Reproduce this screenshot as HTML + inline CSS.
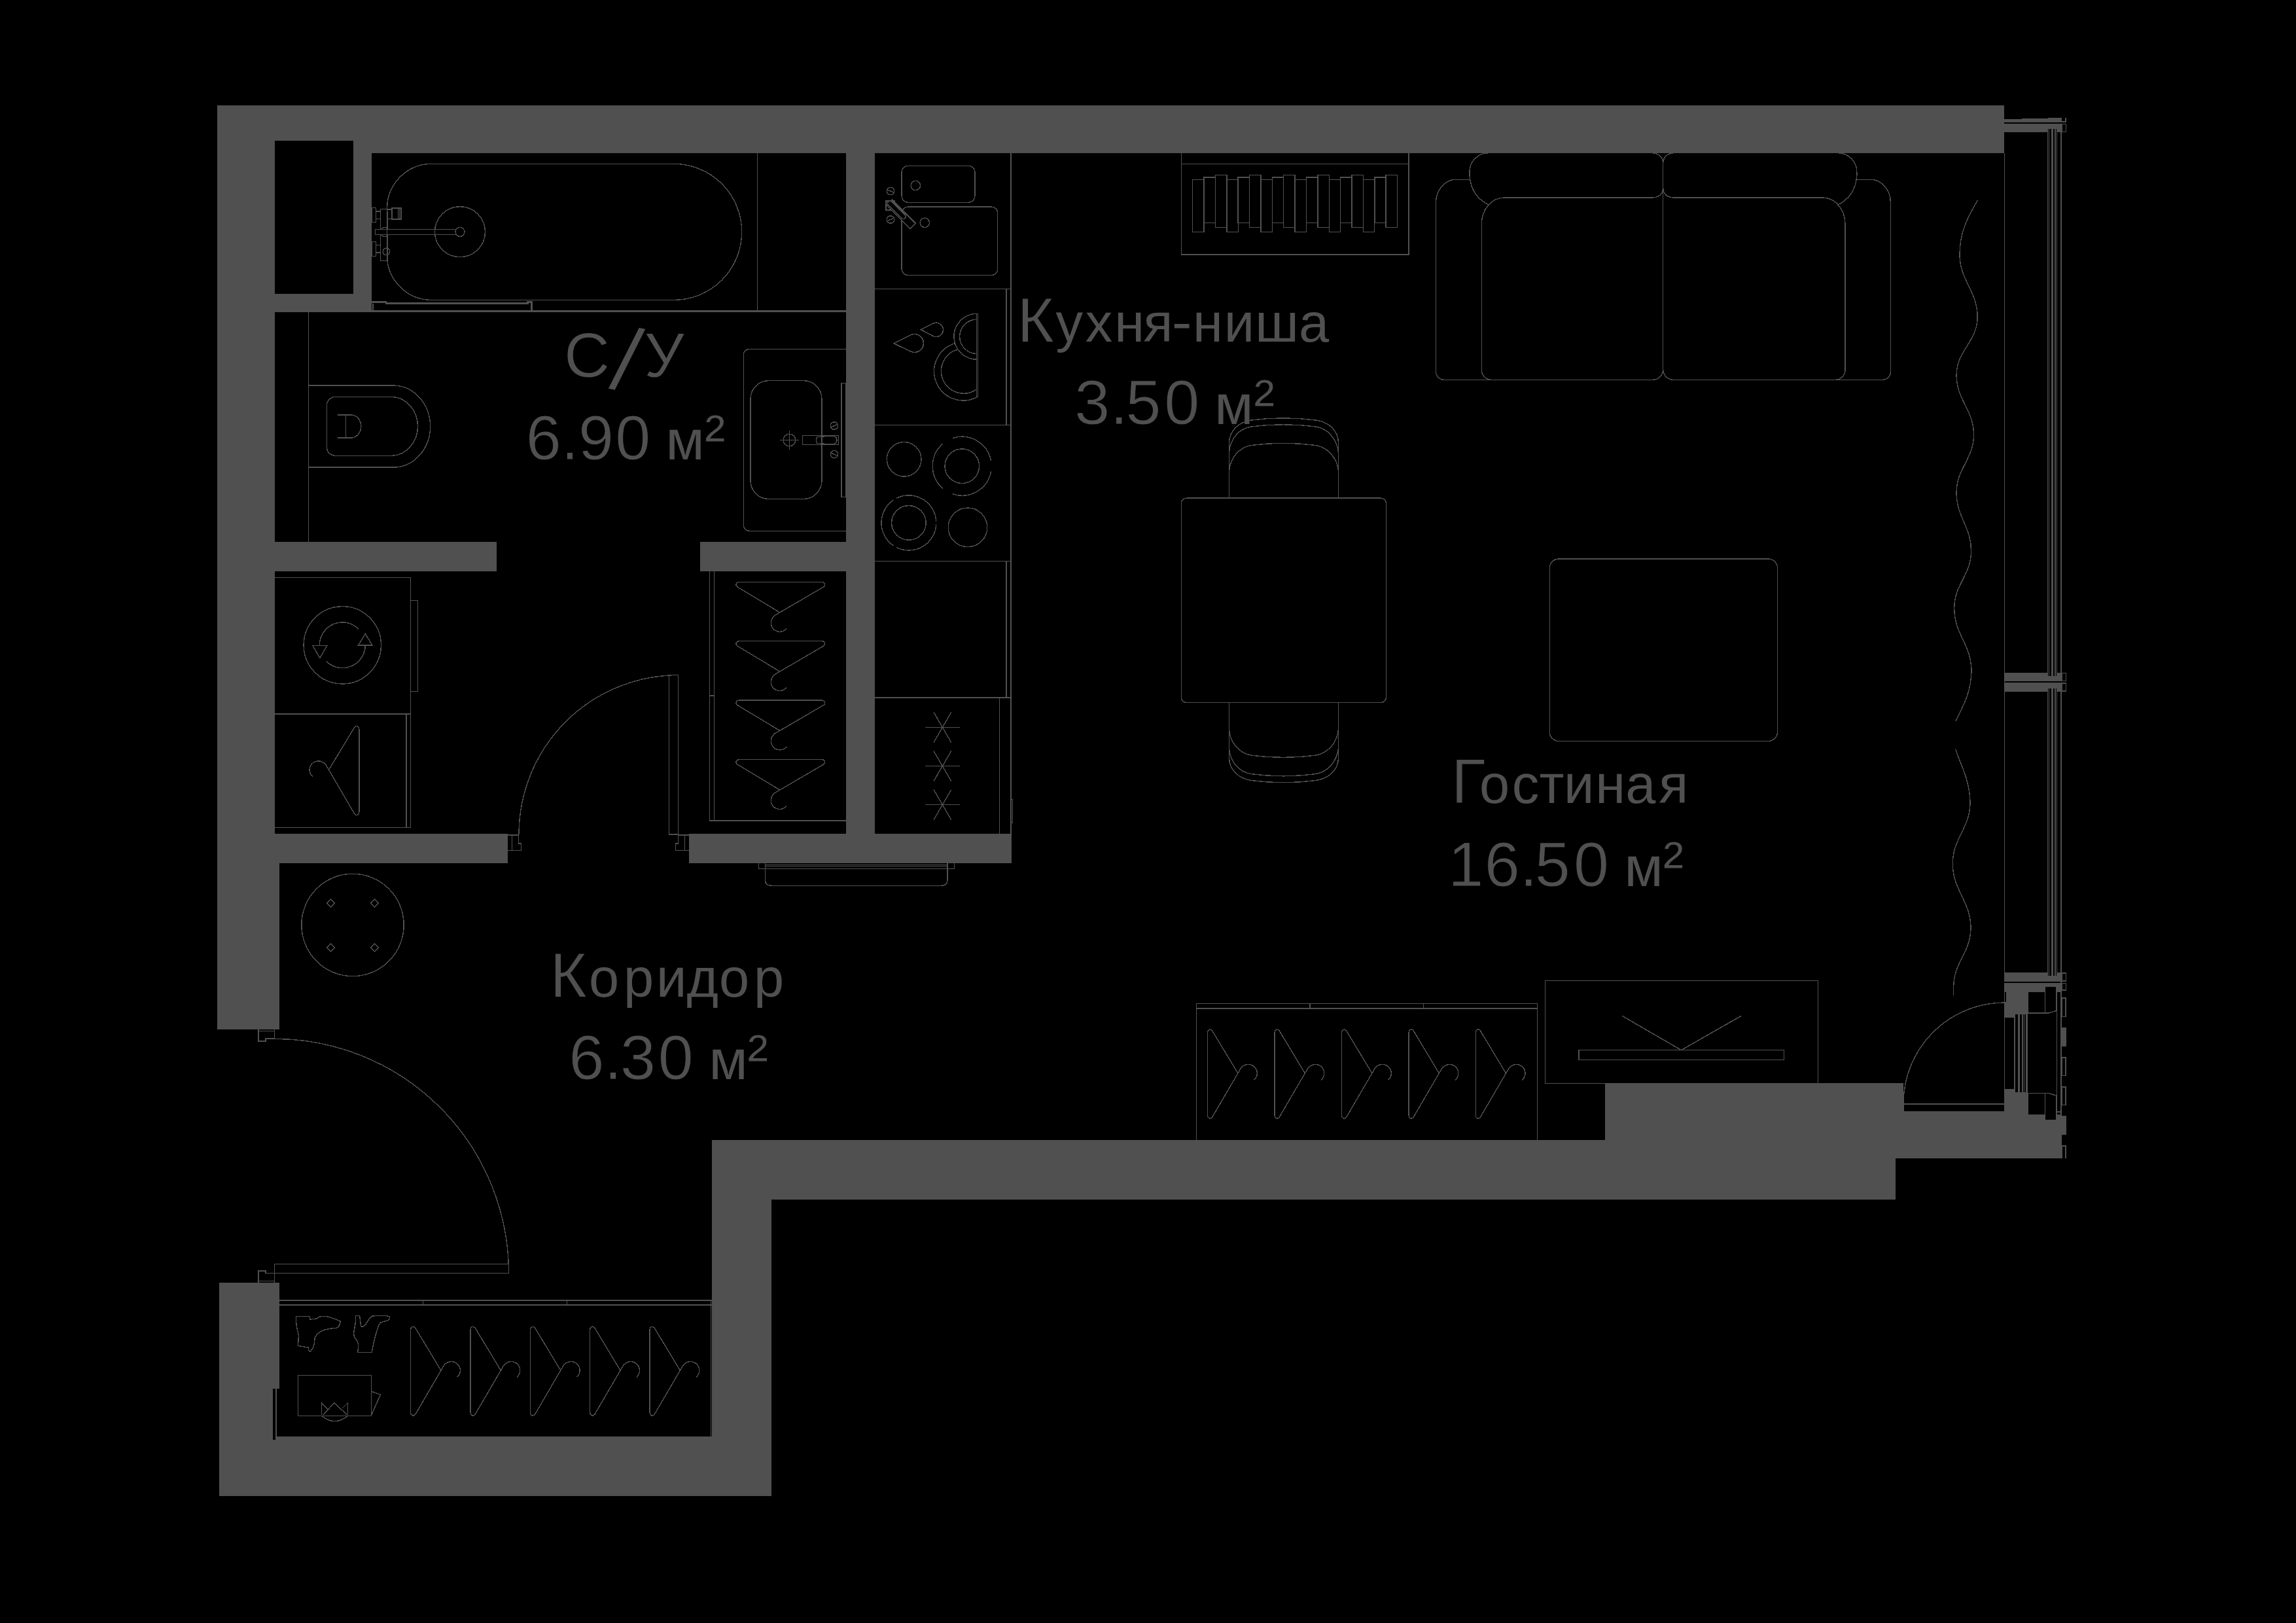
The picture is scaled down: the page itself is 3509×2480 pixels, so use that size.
<!DOCTYPE html>
<html lang="ru"><head><meta charset="utf-8"><title>Plan</title>
<style>
html,body{margin:0;padding:0;background:#000;}
body{width:3509px;height:2480px;overflow:hidden;font-family:"Liberation Sans",sans-serif;}
svg{display:block}
</style></head>
<body>
<svg width="3509" height="2480" viewBox="0 0 3509 2480" fill="none" stroke="#505050" stroke-width="1.4" shape-rendering="crispEdges">
<rect x="0" y="0" width="3509" height="2480" fill="#000" stroke="none"/>
<g id="walls" stroke="none">
<rect x="332.0" y="161.0" width="2731.0" height="72.7" fill="#505050" />
<rect x="332.0" y="161.0" width="236.0" height="315.5" fill="#505050" />
<rect x="420.0" y="215.0" width="119.9" height="233.6" fill="#000" />
<rect x="332.0" y="161.0" width="88.0" height="1113.3" fill="#505050" />
<rect x="332.0" y="1274.0" width="94.6" height="298.8" fill="#505050" />
<rect x="1293.0" y="233.0" width="44.0" height="1085.5" fill="#505050" />
<rect x="420.0" y="828.0" width="339.0" height="44.7" fill="#505050" />
<rect x="1070.0" y="828.0" width="223.0" height="44.7" fill="#505050" />
<rect x="420.0" y="1274.2" width="355.7" height="44.3" fill="#505050" />
<rect x="1053.0" y="1274.2" width="492.8" height="44.3" fill="#505050" />
<rect x="335.3" y="1960.0" width="91.3" height="325.8" fill="#505050" />
<rect x="335.3" y="2195.0" width="843.4" height="90.8" fill="#505050" />
<rect x="1087.7" y="1742.0" width="91.0" height="543.8" fill="#505050" />
<rect x="1087.7" y="1742.0" width="1809.3" height="90.7" fill="#505050" />
<rect x="2453.0" y="1655.2" width="456.0" height="115.2" fill="#505050" />
<rect x="2897.0" y="1698.0" width="254.0" height="72.4" fill="#505050" />
</g>
<g id="bath">
<line x1="1157.5" y1="233.7" x2="1157.5" y2="475.0"/>
<line x1="568.0" y1="475.2" x2="1293.0" y2="475.2" stroke-width="2.6"/>
<path d="M659.6,250.4 H1029.7 A104,104 0 0 1 1029.7,458.4 H659.6 A68,68 0 0 1 591.6,390.4 V318.4 A68,68 0 0 1 659.6,250.4 Z" />
<circle cx="703.0" cy="354.2" r="38.5"/>
<circle cx="703.0" cy="354.4" r="7.0"/>
<rect x="573.3" y="350.6" width="123.1" height="7.8" rx="0"/>
<path d="M581.3,350.6 V319.3 H599 M592.4,350.6 V323 M581.3,358.4 V398.5 H592.4 V358.4" />
<rect x="568.0" y="317.3" width="6.6" height="22.0" rx="0"/>
<rect x="574.6" y="323.0" width="6.7" height="11.5" rx="0"/>
<rect x="568.0" y="369.4" width="6.6" height="22.0" rx="0"/>
<rect x="574.6" y="374.7" width="6.7" height="11.3" rx="0"/>
<rect x="599.0" y="318.0" width="13.7" height="17.3" rx="0" stroke-width="1.6"/>
<line x1="608.2" y1="318.0" x2="608.2" y2="335.3"/>
<line x1="610.7" y1="318.0" x2="610.7" y2="335.3"/>
<line x1="592.4" y1="320.0" x2="599.0" y2="320.0"/>
<line x1="592.4" y1="334.5" x2="599.0" y2="334.5"/>
<circle cx="590.4" cy="384.4" r="5.3"/>
<path d="M583,350.6 A5,3 0 0 1 593,350.6 M583,358.4 A5,3 0 0 0 593,358.4" />
<path d="M568,461.5 H590 V463.5 H806.5 V461.5 H812.5 V475" stroke-width="2.4" />
<line x1="569.5" y1="464.0" x2="569.5" y2="474.0" stroke-width="2"/>
<line x1="471.6" y1="476.0" x2="471.6" y2="828.0"/>
<path d="M471.6,589.1 H601.3 A56.3,62.5 0 0 1 601.3,714.1 H471.6" />
<path d="M512.4,606.4 H599.7 A40.7,45 0 0 1 599.7,696.3 H512.4 A13,13 0 0 1 499.4,683.3 V619.4 A13,13 0 0 1 512.4,606.4 Z" />
<path d="M516.2,634 H536.5 A15.3,17.5 0 0 1 536.5,669 H516.2 M528.5,634 V669" stroke-width="1.5" />
<path d="M1293,533.3 H1145.5 A9.3,9.3 0 0 0 1136.2,542.6 V802.1 A9.3,9.3 0 0 0 1145.5,811.4 H1293" />
<rect x="1147.0" y="581.6" width="109.0" height="180.9" rx="28"/>
<circle cx="1206.4" cy="672.5" r="9.3"/>
<line x1="1192.2" y1="672.5" x2="1220.6" y2="672.5"/>
<line x1="1206.4" y1="658.3" x2="1206.4" y2="686.7"/>
<rect x="1226.4" y="665.8" width="55.2" height="13.4" rx="0"/>
<path d="M1249,667.5 L1272,666 Q1279,666.5 1279,672.5 Q1279,678.5 1272,679 L1249,677.5 Q1246,672.5 1249,667.5 Z" />
<circle cx="1274.9" cy="650.6" r="5.7"/>
<line x1="1270.0" y1="652.6" x2="1279.8" y2="648.6"/>
<circle cx="1274.9" cy="694.2" r="5.7"/>
<line x1="1270.0" y1="692.2" x2="1279.8" y2="696.2"/>
<rect x="1286.1" y="585.3" width="6.9" height="174.2" rx="0"/>
</g>
<g id="kitchen">
<line x1="1544.9" y1="233.7" x2="1544.9" y2="1274.3"/>
<line x1="1337.0" y1="441.4" x2="1544.9" y2="441.4"/>
<line x1="1337.0" y1="649.6" x2="1544.9" y2="649.6"/>
<line x1="1337.0" y1="857.5" x2="1544.9" y2="857.5"/>
<line x1="1337.0" y1="1066.0" x2="1544.9" y2="1066.0"/>
<line x1="1538.0" y1="441.4" x2="1538.0" y2="649.6"/>
<line x1="1538.0" y1="857.5" x2="1538.0" y2="1066.0"/>
<line x1="1527.6" y1="1066.0" x2="1527.6" y2="1274.3"/>
<rect x="1544.9" y="1221.6" width="2.8" height="35.9" rx="0"/>
<rect x="1378.1" y="253.4" width="111.8" height="55.9" rx="9.5"/>
<circle cx="1399.3" cy="283.4" r="7.2"/>
<rect x="1378.1" y="316.1" width="146.7" height="104.4" rx="9.5"/>
<circle cx="1413.3" cy="340.3" r="7.2"/>
<circle cx="1361.0" cy="292.0" r="5.7"/>
<line x1="1356.5" y1="290.2" x2="1365.5" y2="293.8"/>
<circle cx="1361.0" cy="335.5" r="5.7"/>
<line x1="1356.5" y1="337.3" x2="1365.5" y2="333.7"/>
<rect x="1354.2" y="307.4" width="12.4" height="13.2" rx="0" stroke-width="2.2"/>
<g transform="translate(1361.2,311.6) rotate(45)">
<rect x="-3" y="-5.9" width="51" height="11.8" fill="#000" stroke-width="1.6"/>
<rect x="-5" y="-3.8" width="36" height="7.6" rx="3.8" fill="#000" stroke-width="1.6"/>
</g>
<rect x="1492.0" y="479.4" width="2.0" height="127.5" rx="0" stroke-width="1"/>
<path d="M1492.9,479.3 A35,35 0 0 0 1492.9,549.3" />
<path d="M1492.9,488.1 A26.2,26.2 0 0 0 1492.9,540.5" />
<clipPath id="cpl"><path d="M1400,470 H1492.9 V620 H1400 Z"/></clipPath>
<path d="M1460.5,524.5 A44.5,44.5 0 1 0 1492.9,606.8" />
<path d="M1463.5,534 A34.2,34.2 0 1 0 1492.9,594.5" />
<path d="M1366.3,524.8 L1391.5,511.9 A13.9,13.9 0 1 1 1391.5,536.9 Z" stroke-width="1.5" />
<path d="M1407.4,503.6 L1426,494.3 A10.7,10.7 0 1 1 1426,513.5 Z" stroke-width="1.5" />
<circle cx="1381.7" cy="701.8" r="26.3"/>
<circle cx="1470.3" cy="712.2" r="26.3"/>
<path d="M1455.6,669.7 A45,45 0 0 1 1514.5,704.0" />
<path d="M1514.7,719.8 A45,45 0 0 1 1455.6,754.7" />
<path d="M1440.8,746.2 A45,45 0 0 1 1440.6,678.4" />
<circle cx="1388.9" cy="798.9" r="26.3"/>
<path d="M1370.1,761.3 A42,42 0 0 1 1430.8,796.7" />
<path d="M1430.8,801.4 A42,42 0 0 1 1370.1,836.5" />
<path d="M1365.6,833.8 A42,42 0 0 1 1365.6,764.0" />
<circle cx="1479.0" cy="805.8" r="29.8"/>
<line x1="1414.0" y1="1111.4" x2="1466.8" y2="1111.4"/>
<line x1="1427.0" y1="1088.4" x2="1453.8" y2="1134.4"/>
<line x1="1453.8" y1="1088.4" x2="1427.0" y2="1134.4"/>
<line x1="1414.0" y1="1170.6" x2="1466.8" y2="1170.6"/>
<line x1="1427.0" y1="1147.6" x2="1453.8" y2="1193.6"/>
<line x1="1453.8" y1="1147.6" x2="1427.0" y2="1193.6"/>
<line x1="1414.0" y1="1229.7" x2="1466.8" y2="1229.7"/>
<line x1="1427.0" y1="1206.7" x2="1453.8" y2="1252.7"/>
<line x1="1453.8" y1="1206.7" x2="1427.0" y2="1252.7"/>
</g>
<g id="living">
<path d="M1805.7,233.7 V388.9 H2153 V233.7" />
<line x1="1805.7" y1="388.6" x2="2153.0" y2="388.6" stroke-width="2"/>
<line x1="1805.7" y1="250.3" x2="2153.0" y2="250.3"/>
<rect x="1822.6" y="274.3" width="17.4" height="80.1" rx="0"/>
<rect x="1840.0" y="271.0" width="17.4" height="69.4" rx="0"/>
<rect x="1857.4" y="267.4" width="17.4" height="80.1" rx="0"/>
<rect x="1874.8" y="274.3" width="17.4" height="80.1" rx="0"/>
<rect x="1892.2" y="271.0" width="17.4" height="69.4" rx="0"/>
<rect x="1909.5" y="267.4" width="17.4" height="80.1" rx="0"/>
<rect x="1926.9" y="274.3" width="17.4" height="80.1" rx="0"/>
<rect x="1944.3" y="271.0" width="17.4" height="69.4" rx="0"/>
<rect x="1961.7" y="267.4" width="17.4" height="80.1" rx="0"/>
<rect x="1979.1" y="274.3" width="17.4" height="80.1" rx="0"/>
<rect x="1996.5" y="271.0" width="17.4" height="69.4" rx="0"/>
<rect x="2013.9" y="267.4" width="17.4" height="80.1" rx="0"/>
<rect x="2031.3" y="274.3" width="17.4" height="80.1" rx="0"/>
<rect x="2048.7" y="271.0" width="17.4" height="69.4" rx="0"/>
<rect x="2066.0" y="267.4" width="17.4" height="80.1" rx="0"/>
<rect x="2083.4" y="274.3" width="17.4" height="80.1" rx="0"/>
<rect x="2100.8" y="271.0" width="17.4" height="69.4" rx="0"/>
<rect x="2118.2" y="267.4" width="17.4" height="80.1" rx="0"/>
<path d="M2246,274.2 H2225.4 A31,36 0 0 0 2194.4,310.2 V568 A12.5,12.5 0 0 0 2206.9,580.3 H2282" />
<path d="M2837.8,274.2 H2858.5 A31,36 0 0 1 2889.5,310.2 V568 A12.5,12.5 0 0 1 2877,580.3 H2802" />
<path d="M2275,233.7 A29,29 0 0 0 2246,262.7 V268 Q2248,300 2276,313.5" />
<path d="M2276,233.7 H2526 Q2541.7,236 2541.7,250 V286 Q2541.7,302 2524,302 H2299.3" />
<path d="M2808.8,233.7 A29,29 0 0 1 2837.8,262.7 V268 Q2836,300 2808,313.5" />
<path d="M2557,233.7 Q2541.7,236 2541.7,250 V286 Q2541.7,302 2559,302 H2785" />
<path d="M2299.3,302 A35,40 0 0 0 2264.3,342 V565 A15,15 0 0 0 2279.3,580.3 H2526 A15.7,15.7 0 0 0 2541.7,564.6" />
<path d="M2785,302 A35,40 0 0 1 2820,342 V565 A15,15 0 0 1 2805,580.3 H2557.4 A15.7,15.7 0 0 1 2541.7,564.6" />
<line x1="2541.7" y1="286.0" x2="2541.7" y2="565.0"/>
<rect x="1805.2" y="761.0" width="313.3" height="312.6" rx="8.4"/>
<path d="M1878.4,761 V677.9 C1878.4,655.1 1896.7,644.4 1912,642.1 Q1961.5,635.6 2011,642.1 C2027.8,644.4 2045.6,655.1 2045.6,677.9 V761" />
<path d="M1878.4,691.6 C1879.9,670.3 1893.7,655 1912,652 Q1961.5,645.5 2011,652 C2029.3,655 2043,670.3 2045.6,691.6" />
<path d="M1878.4,720.6 C1879.9,699.3 1893.7,684 1912,680.5 Q1961.5,674 2011,680.5 C2029.3,684 2043.8,699.3 2045.6,720.6" />
<path d="M1878.4,1073.6 V1156.7 C1878.4,1179.5 1896.7,1190.2 1912,1192.5 Q1961.5,1199.0 2011,1192.5 C2027.8,1190.2 2045.6,1179.5 2045.6,1156.7 V1073.6" />
<path d="M1878.4,1143.0 C1879.9,1164.3 1893.7,1179.6 1912,1182.6 Q1961.5,1189.1 2011,1182.6 C2029.3,1179.6 2043,1164.3 2045.6,1143.0" />
<path d="M1878.4,1114.0 C1879.9,1135.3 1893.7,1150.6 1912,1154.1 Q1961.5,1160.6 2011,1154.1 C2029.3,1150.6 2043.8,1135.3 2045.6,1114.0" />
<rect x="2368.2" y="854.0" width="348.3" height="278.5" rx="14"/>
<path d="M3022.2,306.3 C3010,328 2995,351.6 2995,388.7 C2995,428.9 3022.2,444.3 3022.2,484.5 C3022.2,521.8 2990.1,535.9 2990.1,573.2 C2990.1,611.4 3016.5,626.0 3016.5,664.2 C3016.5,701.4 2990.1,715.6 2990.1,752.8 C2990.1,790.3 3012.6,804.5 3012.6,842 C3012.6,878.7 2986.7,892.7 2986.7,929.4 C2986.7,969.6 3013,984.8 3013,1025 C3013,1059.6 2997,1084 2989,1101.8" />
<path d="M2989,1145 C2992,1160 3011,1189.8 3011,1226.4 C3011,1265.6 2984.3,1280.6 2984.3,1319.8 C2984.3,1361.0 3012,1376.8 3012,1418 C3012,1455.8 2985.7,1470.2 2985.7,1508 C2985.7,1513.8 2985.7,1516 2985.7,1521" />
</g>
<g id="window">
<line x1="3063.6" y1="233.7" x2="3063.6" y2="1486.0"/>
<line x1="3129.5" y1="197.0" x2="3129.5" y2="1033.0" stroke-width="1.1"/>
<line x1="3129.5" y1="1052.0" x2="3129.5" y2="1491.0" stroke-width="1.1"/>
<line x1="3131.6" y1="197.0" x2="3131.6" y2="1033.0" stroke-width="1.1"/>
<line x1="3131.6" y1="1052.0" x2="3131.6" y2="1491.0" stroke-width="1.1"/>
<line x1="3136.4" y1="197.0" x2="3136.4" y2="1033.0" stroke-width="3"/>
<line x1="3136.4" y1="1052.0" x2="3136.4" y2="1491.0" stroke-width="3"/>
<line x1="3141.0" y1="197.0" x2="3141.0" y2="1033.0" stroke-width="1.9"/>
<line x1="3141.0" y1="1052.0" x2="3141.0" y2="1491.0" stroke-width="1.9"/>
<line x1="3143.5" y1="197.0" x2="3143.5" y2="1033.0" stroke-width="1.1"/>
<line x1="3143.5" y1="1052.0" x2="3143.5" y2="1491.0" stroke-width="1.1"/>
<line x1="3150.0" y1="197.0" x2="3150.0" y2="1033.0" stroke-width="2.2"/>
<line x1="3150.0" y1="1052.0" x2="3150.0" y2="1491.0" stroke-width="2.2"/>
<g stroke="none" fill="#505050">
<path d="M3063,181.8 H3090 V181 H3130 V180 H3151 V185 H3156 V180 H3158 V187 H3063 Z"/>
<rect x="3063.0" y="189.2" width="88.0" height="7.6" fill="#505050" />
<rect x="3063.0" y="196.8" width="66.0" height="5.2" fill="#505050" />
<rect x="3144.0" y="196.8" width="7.0" height="5.2" fill="#505050" />
<path fill-rule="evenodd" d="M3151,189.2 H3158 V202 H3151 Z M3152.2,190.4 V200.8 H3156.8 V190.4 Z"/>
<rect x="3063.0" y="1033.0" width="88.0" height="7.9" fill="#505050" />
<rect x="3063.0" y="1028.0" width="66.0" height="5.0" fill="#505050" />
<rect x="3144.0" y="1028.0" width="7.0" height="5.0" fill="#505050" />
<rect x="3063.0" y="1043.0" width="88.0" height="8.8" fill="#505050" />
<rect x="3063.0" y="1051.8" width="66.0" height="5.2" fill="#505050" />
<rect x="3144.0" y="1051.8" width="7.0" height="5.2" fill="#505050" />
<path fill-rule="evenodd" d="M3151,1028 H3158 V1040.9 H3151 Z M3152.2,1029.2 V1039.7 H3156.8 V1029.2 Z"/>
<path fill-rule="evenodd" d="M3151,1043 H3158 V1057 H3151 Z M3152.2,1044.8 V1055 H3156.8 V1044.8 Z"/>
<rect x="3063.0" y="1491.0" width="88.0" height="8.8" fill="#505050" />
<rect x="3063.0" y="1485.9" width="66.0" height="5.1" fill="#505050" />
<rect x="3144.0" y="1485.9" width="7.0" height="5.1" fill="#505050" />
<path fill-rule="evenodd" d="M3151,1485.9 H3158 V1499.8 H3151 Z M3152.2,1487.6 V1498 H3156.8 V1487.6 Z"/>
<path fill-rule="evenodd" d="M3151,1502.1 H3158 V1514 H3151 Z M3152.2,1503.3 V1512 H3156.8 V1503.3 Z"/>
<rect x="3063.0" y="1502.1" width="87.0" height="6.1" fill="#505050" />
<rect x="3063.0" y="1502.1" width="36.0" height="52.7" fill="#505050" />
<rect x="3142.1" y="1508.2" width="7.9" height="7.7" fill="#505050" />
<rect x="3099.0" y="1508.0" width="26.6" height="7.9" fill="#505050" />
<rect x="3064.4" y="1516.0" width="1.6" height="14.8" fill="#000" />
<rect x="3063.0" y="1664.0" width="36.0" height="36.0" fill="#505050" />
<rect x="3099.0" y="1702.7" width="27.0" height="9.3" fill="#505050" />
<rect x="3125.0" y="1710.9" width="27.0" height="1.1" fill="#505050" />
<rect x="3142.1" y="1703.0" width="8.9" height="9.0" fill="#505050" />
<rect x="2897.0" y="1698.0" width="166.5" height="72.4" fill="#505050" />
<rect x="3063.0" y="1700.0" width="88.0" height="70.4" fill="#505050" />
<rect x="3099.0" y="1671.3" width="26.3" height="31.4" fill="#000" />
<rect x="3125.9" y="1671.3" width="16.2" height="39.6" fill="#000" />
<rect x="3143.0" y="1700.0" width="6.0" height="3.0" fill="#000" />
<path fill-rule="evenodd" d="M3150.5,1524 H3158 V1554 H3150.5 Z M3151.7,1525.5 V1552.5 H3156.3 V1525.5 Z"/>
<rect x="3150.5" y="1570.0" width="7.5" height="29.0" fill="#505050" />
<path fill-rule="evenodd" d="M3150.5,1615 H3158 V1644 H3150.5 Z M3151.7,1616.5 V1642.5 H3156.3 V1616.5 Z"/>
<path fill-rule="evenodd" d="M3150.5,1660 H3158 V1689 H3150.5 Z M3151.7,1661.5 V1687.5 H3156.3 V1661.5 Z"/>
<rect x="3150.5" y="1705.0" width="7.5" height="29.0" fill="#505050" />
<rect x="3150.5" y="1734.0" width="0.5" height="16.0" fill="#000" />
<path fill-rule="evenodd" d="M3150.5,1750 H3158 V1770 H3150.5 Z M3151.7,1751.5 V1770 H3156.3 V1751.5 Z"/>
</g>
<path d="M3099,1516 V1548 H3131 L3142.5,1544.5 V1508.2" />
<line x1="3125.6" y1="1508.2" x2="3125.6" y2="1548.0"/>
<path d="M3099,1702.7 V1670.6 H3131 L3142.5,1674 V1711" />
<line x1="3125.6" y1="1670.6" x2="3125.6" y2="1710.9"/>
<line x1="3143.6" y1="1516.0" x2="3143.6" y2="1703.0"/>
<line x1="3150.0" y1="1500.0" x2="3150.0" y2="1712.0" stroke-width="2"/>
<line x1="3078.9" y1="1550.0" x2="3078.9" y2="1668.5" stroke-width="1.2"/>
<line x1="3085.5" y1="1550.0" x2="3085.5" y2="1668.5" stroke-width="3"/>
<line x1="3090.9" y1="1550.0" x2="3090.9" y2="1668.5" stroke-width="1.8"/>
<line x1="3093.4" y1="1550.0" x2="3093.4" y2="1668.5" stroke-width="1"/>
<line x1="3097.5" y1="1550.0" x2="3097.5" y2="1668.5" stroke-width="3"/>
<line x1="3063.6" y1="1554.8" x2="3063.6" y2="1664.0"/>
<rect x="3079.6" y="1550.0" width="4.4" height="5.5" fill="#000" stroke="none"/>
<rect x="3079.6" y="1663.5" width="4.4" height="5.0" fill="#000" stroke="none"/>
<rect x="3087.0" y="1550.0" width="3.0" height="5.5" fill="#000" stroke="none"/>
<rect x="3087.0" y="1663.5" width="3.0" height="5.0" fill="#000" stroke="none"/>
<rect x="3091.8" y="1550.0" width="1.1" height="5.5" fill="#000" stroke="none"/>
<rect x="3091.8" y="1663.5" width="1.1" height="5.0" fill="#000" stroke="none"/>
<rect x="3093.9" y="1550.0" width="2.1" height="5.5" fill="#000" stroke="none"/>
<rect x="3093.9" y="1663.5" width="2.1" height="5.0" fill="#000" stroke="none"/>
<path d="M2909,1686.5 A154.4,154.4 0 0 1 3063.4,1532.1" />
<path d="M3063.4,1686.9 H2909 V1698" stroke-width="1.5" />
</g>
<g id="laundry">
<path d="M420,882.3 H627.6 V1264.2 H420" />
<line x1="420.0" y1="1090.9" x2="627.6" y2="1090.9"/>
<line x1="620.9" y1="1090.9" x2="620.9" y2="1264.2"/>
<rect x="627.6" y="917.5" width="11.1" height="139.0" rx="0"/>
<circle cx="523.3" cy="985.8" r="59.2"/>
<path d="M488.3,985.8 A35,35 0 0 1 548.0,961.1" />
<path d="M558.3,985.8 A35,35 0 0 1 498.6,1010.5" />
<path d="M478,986.6 H499.8 L488.9,1005.5 Z M547.6,986 H568.9 L558.3,968.5 Z" />
<path d="M502.5,1176.4 L541.7,1111.4 Q544.5,1108.2 547.3,1110.4 Q548.9,1111.8 548.9,1114.3 L548.9,1240.6 Q548.9,1243.1 547.3,1244.5 Q544.5,1246.7 541.7,1243.5 L497.5,1167.8 L495.9,1166.6 L494.5,1165.4 L492.9,1164.5 L491.2,1163.7 L489.4,1163.2 L487.5,1162.9 L485.6,1162.9 L483.8,1163.2 L481.9,1163.7 L480.2,1164.5 L478.6,1165.5 L477.2,1166.7 L475.9,1168.1 L474.9,1169.7 L474.1,1171.4 L473.5,1173.2 L473.2,1175.0 L473.1,1176.9 L473.3,1178.8 L473.8,1180.6 L474.5,1182.3 L475.4,1184.0 L476.6,1185.4 L477.9,1186.7" />
</g>
<g id="closet">
<path d="M1084.6,872.7 V1254 H1293" />
<line x1="1091.3" y1="872.7" x2="1091.3" y2="1254.0"/>
<line x1="1084.6" y1="1062.8" x2="1091.3" y2="1062.8"/>
<path d="M1191.8,935.9 L1126.8,896.7 Q1123.6,893.9 1125.8,891.1 Q1127.2,889.5 1129.7,889.5 L1256.0,889.5 Q1258.5,889.5 1259.9,891.1 Q1262.1,893.9 1258.9,896.7 L1183.2,940.9 L1182.0,942.5 L1180.8,943.9 L1179.9,945.5 L1179.1,947.2 L1178.6,949.0 L1178.3,950.9 L1178.3,952.8 L1178.6,954.6 L1179.1,956.5 L1179.9,958.2 L1180.9,959.8 L1182.1,961.2 L1183.5,962.5 L1185.1,963.5 L1186.8,964.3 L1188.6,964.9 L1190.4,965.2 L1192.3,965.3 L1194.2,965.1 L1196.0,964.6 L1197.7,963.9 L1199.4,963.0 L1200.8,961.8 L1202.1,960.5" />
<path d="M1191.8,1026.1 L1126.8,986.9 Q1123.6,984.1 1125.8,981.3 Q1127.2,979.7 1129.7,979.7 L1256.0,979.7 Q1258.5,979.7 1259.9,981.3 Q1262.1,984.1 1258.9,986.9 L1183.2,1031.1 L1182.0,1032.7 L1180.8,1034.1 L1179.9,1035.7 L1179.1,1037.4 L1178.6,1039.2 L1178.3,1041.1 L1178.3,1043.0 L1178.6,1044.8 L1179.1,1046.7 L1179.9,1048.4 L1180.9,1050.0 L1182.1,1051.4 L1183.5,1052.7 L1185.1,1053.7 L1186.8,1054.5 L1188.6,1055.1 L1190.4,1055.4 L1192.3,1055.5 L1194.2,1055.3 L1196.0,1054.8 L1197.7,1054.1 L1199.4,1053.2 L1200.8,1052.0 L1202.1,1050.7" />
<path d="M1191.8,1116.5 L1126.8,1077.3 Q1123.6,1074.5 1125.8,1071.7 Q1127.2,1070.1 1129.7,1070.1 L1256.0,1070.1 Q1258.5,1070.1 1259.9,1071.7 Q1262.1,1074.5 1258.9,1077.3 L1183.2,1121.5 L1182.0,1123.1 L1180.8,1124.5 L1179.9,1126.1 L1179.1,1127.8 L1178.6,1129.6 L1178.3,1131.5 L1178.3,1133.4 L1178.6,1135.2 L1179.1,1137.1 L1179.9,1138.8 L1180.9,1140.4 L1182.1,1141.8 L1183.5,1143.1 L1185.1,1144.1 L1186.8,1144.9 L1188.6,1145.5 L1190.4,1145.8 L1192.3,1145.9 L1194.2,1145.7 L1196.0,1145.2 L1197.7,1144.5 L1199.4,1143.6 L1200.8,1142.4 L1202.1,1141.1" />
<path d="M1191.8,1207.1 L1126.8,1167.9 Q1123.6,1165.1 1125.8,1162.3 Q1127.2,1160.7 1129.7,1160.7 L1256.0,1160.7 Q1258.5,1160.7 1259.9,1162.3 Q1262.1,1165.1 1258.9,1167.9 L1183.2,1212.1 L1182.0,1213.7 L1180.8,1215.1 L1179.9,1216.7 L1179.1,1218.4 L1178.6,1220.2 L1178.3,1222.1 L1178.3,1224.0 L1178.6,1225.8 L1179.1,1227.7 L1179.9,1229.4 L1180.9,1231.0 L1182.1,1232.4 L1183.5,1233.7 L1185.1,1234.7 L1186.8,1235.5 L1188.6,1236.1 L1190.4,1236.4 L1192.3,1236.5 L1194.2,1236.3 L1196.0,1235.8 L1197.7,1235.1 L1199.4,1234.2 L1200.8,1233.0 L1202.1,1231.7" />
</g>
<g id="doors">
<path d="M793,1275.3 A243.7,243.7 0 0 1 1036.7,1031.6" />
<rect x="1022.4" y="1031.6" width="14.3" height="243.4" rx="0"/>
<path d="M775.7,1275.8 H792.5 V1289 H796.7 V1299.5 H775.7 M782.3,1275.8 V1299.5" stroke-width="1.5" />
<path d="M1053,1275.8 H1036.7 V1289 H1032.5 V1299.5 H1053 M1046.4,1275.8 V1299.5" stroke-width="1.5" />
<path d="M419.4,1587.4 A358.1,358.1 0 0 1 777.5,1945.5" />
<rect x="419.4" y="1931.6" width="358.1" height="13.9" rx="0"/>
<path d="M395,1572.9 V1591 H405.6 V1587.4 H419.4" stroke-width="1.9" />
<path d="M419.4,1572.9 V1587.4 M395,1575.5 H419.4" />
<path d="M395,1960 V1941.6 H405.6 V1945.5 H419.4" stroke-width="1.9" />
<path d="M419.4,1931.6 V1960 M395,1957.5 H419.4" />
</g>
<g id="corridor">
<circle cx="539.0" cy="1413.4" r="78.2"/>
<path d="M499.5,1380.4 L505.5,1374.4 L511.5,1380.4 L505.5,1386.4 Z" />
<path d="M566.6,1380.4 L572.6,1374.4 L578.6,1380.4 L572.6,1386.4 Z" />
<path d="M499.5,1447.8 L505.5,1441.8 L511.5,1447.8 L505.5,1453.8 Z" />
<path d="M566.6,1447.8 L572.6,1441.8 L578.6,1447.8 L572.6,1453.8 Z" />
<path d="M1159.4,1318.5 V1327.6 H1458.6 V1318.5" />
<path d="M1169.4,1321.3 H1448 M1169.4,1323.2 H1448" />
<path d="M1169.4,1318.5 V1344.5 Q1169.4,1353.2 1178.5,1353.2 H1439 Q1448,1353.2 1448,1344.5 V1318.5" />
<line x1="426.6" y1="1986.9" x2="1087.7" y2="1986.9" stroke-width="1.6"/>
<line x1="426.6" y1="1994.0" x2="1087.7" y2="1994.0" stroke-width="1.6"/>
<line x1="646.3" y1="1986.9" x2="646.3" y2="1994.0"/>
<line x1="866.5" y1="1986.9" x2="866.5" y2="1994.0"/>
<line x1="1086.5" y1="1986.9" x2="1086.5" y2="2195.0"/>
<rect x="416.9" y="2122.3" width="9.9" height="72.7" fill="#000" stroke="none"/>
<rect x="416.9" y="2194.0" width="4.1" height="6.0" fill="#000" stroke="none"/>
<line x1="422.0" y1="2122.3" x2="422.0" y2="2195.0" stroke-width="1.8"/>
<path d="M674.0,2094.1 L634.8,2029.1 Q632.0,2025.9 629.2,2028.1 Q627.6,2029.5 627.6,2032.0 L627.6,2158.3 Q627.6,2160.8 629.2,2162.2 Q632.0,2164.4 634.8,2161.2 L679.0,2085.5 L680.6,2084.3 L682.0,2083.1 L683.6,2082.2 L685.3,2081.4 L687.1,2080.9 L689.0,2080.6 L690.9,2080.6 L692.7,2080.9 L694.6,2081.4 L696.3,2082.2 L697.9,2083.2 L699.3,2084.4 L700.6,2085.8 L701.6,2087.4 L702.4,2089.1 L703.0,2090.9 L703.3,2092.7 L703.4,2094.6 L703.2,2096.5 L702.7,2098.3 L702.0,2100.0 L701.1,2101.7 L699.9,2103.1 L698.6,2104.4" />
<path d="M765.4,2094.1 L726.2,2029.1 Q723.4,2025.9 720.6,2028.1 Q719.0,2029.5 719.0,2032.0 L719.0,2158.3 Q719.0,2160.8 720.6,2162.2 Q723.4,2164.4 726.2,2161.2 L770.4,2085.5 L772.0,2084.3 L773.4,2083.1 L775.0,2082.2 L776.7,2081.4 L778.5,2080.9 L780.4,2080.6 L782.3,2080.6 L784.1,2080.9 L786.0,2081.4 L787.7,2082.2 L789.3,2083.2 L790.7,2084.4 L792.0,2085.8 L793.0,2087.4 L793.8,2089.1 L794.4,2090.9 L794.7,2092.7 L794.8,2094.6 L794.6,2096.5 L794.1,2098.3 L793.4,2100.0 L792.5,2101.7 L791.3,2103.1 L790.0,2104.4" />
<path d="M856.8,2094.1 L817.6,2029.1 Q814.8,2025.9 812.0,2028.1 Q810.4,2029.5 810.4,2032.0 L810.4,2158.3 Q810.4,2160.8 812.0,2162.2 Q814.8,2164.4 817.6,2161.2 L861.8,2085.5 L863.4,2084.3 L864.8,2083.1 L866.4,2082.2 L868.1,2081.4 L869.9,2080.9 L871.8,2080.6 L873.7,2080.6 L875.5,2080.9 L877.4,2081.4 L879.1,2082.2 L880.7,2083.2 L882.1,2084.4 L883.4,2085.8 L884.4,2087.4 L885.2,2089.1 L885.8,2090.9 L886.1,2092.7 L886.2,2094.6 L886.0,2096.5 L885.5,2098.3 L884.8,2100.0 L883.9,2101.7 L882.7,2103.1 L881.4,2104.4" />
<path d="M948.1,2094.1 L908.9,2029.1 Q906.1,2025.9 903.3,2028.1 Q901.7,2029.5 901.7,2032.0 L901.7,2158.3 Q901.7,2160.8 903.3,2162.2 Q906.1,2164.4 908.9,2161.2 L953.1,2085.5 L954.7,2084.3 L956.1,2083.1 L957.7,2082.2 L959.4,2081.4 L961.2,2080.9 L963.1,2080.6 L965.0,2080.6 L966.8,2080.9 L968.7,2081.4 L970.4,2082.2 L972.0,2083.2 L973.4,2084.4 L974.7,2085.8 L975.7,2087.4 L976.5,2089.1 L977.1,2090.9 L977.4,2092.7 L977.5,2094.6 L977.3,2096.5 L976.8,2098.3 L976.1,2100.0 L975.2,2101.7 L974.0,2103.1 L972.7,2104.4" />
<path d="M1039.4,2094.1 L1000.2,2029.1 Q997.4,2025.9 994.6,2028.1 Q993.0,2029.5 993.0,2032.0 L993.0,2158.3 Q993.0,2160.8 994.6,2162.2 Q997.4,2164.4 1000.2,2161.2 L1044.4,2085.5 L1046.0,2084.3 L1047.4,2083.1 L1049.0,2082.2 L1050.7,2081.4 L1052.5,2080.9 L1054.4,2080.6 L1056.3,2080.6 L1058.1,2080.9 L1060.0,2081.4 L1061.7,2082.2 L1063.3,2083.2 L1064.7,2084.4 L1066.0,2085.8 L1067.0,2087.4 L1067.8,2089.1 L1068.4,2090.9 L1068.7,2092.7 L1068.8,2094.6 L1068.6,2096.5 L1068.1,2098.3 L1067.4,2100.0 L1066.5,2101.7 L1065.3,2103.1 L1064.0,2104.4" />
<path d="M452.3,2011.4 L473.7,2011.4 L473.7,2015.9 L479.4,2015.7 L485.7,2014.5 L486.3,2012.5 L492.3,2011.2 L499.2,2011.4 L510.4,2014.9 L520.4,2018.8 L519.0,2024.0 L517.3,2027.5 L514.7,2029.2 L505.2,2030.1 L496.6,2031.8 L489.7,2034.7 L485.7,2037.8 L482.5,2041.8 L481.1,2044.7 L480.6,2049.9 L480.2,2053.3 L478.5,2059.4 L474.2,2065.4 L471.6,2062.8 L471.2,2059.0 L455.5,2056.4 L456.4,2040.4 L454.0,2030.1 L452.6,2020.6 Z" stroke-linejoin="round"/>
<path d="M543.5,2010.4 L549.6,2010.4 L550.9,2020.6 L551.8,2026.6 L554.4,2027.5 L557.8,2024.5 L560.4,2021.4 L564.7,2014.5 L568.2,2011.1 L579.4,2010.2 L589.8,2010.4 L595.4,2011.8 L595.3,2015.4 L591.5,2018.3 L585.4,2019.7 L581.1,2021.4 L578.5,2025.7 L576.0,2033.5 L573.4,2042.1 L570.8,2053.3 L568.2,2066.3 L546.6,2066.3 L547.5,2059.4 L547.5,2053.3 L544.9,2047.3 L541.1,2041.8 L540.6,2037.0 L541.8,2030.1 L543.2,2021.4 Z" stroke-linejoin="round"/>
<rect x="455.2" y="2101.6" width="112.1" height="61.6" rx="0"/>
<path d="M567.3,2126.1 L581.5,2131.0 L567.3,2162.9" />
<path d="M491.4,2162.0 L491.4,2143.4 L500.9,2153.4" />
<path d="M493.2,2162.0 L511.3,2143.6 L530.2,2162.0" />
<path d="M531.6,2162.0 L531.6,2143.4 L522.5,2152.5" />
<path d="M491.5,2163.2 Q511.3,2180 532,2163.2" />
</g>
<g id="wardrobe2">
<path d="M1828.3,1742 V1533.7 H2349.6 V1742" stroke-width="1.5" />
<line x1="1828.3" y1="1541.0" x2="2349.6" y2="1541.0" stroke-width="1.5"/>
<line x1="2001.8" y1="1533.7" x2="2001.8" y2="1541.0"/>
<line x1="2175.2" y1="1533.7" x2="2175.2" y2="1541.0"/>
<path d="M1891.9,1640.0 L1852.7,1575.0 Q1849.9,1571.8 1847.1,1574.0 Q1845.5,1575.4 1845.5,1577.9 L1845.5,1704.2 Q1845.5,1706.7 1847.1,1708.1 Q1849.9,1710.3 1852.7,1707.1 L1896.9,1631.4 L1898.5,1630.2 L1899.9,1629.0 L1901.5,1628.1 L1903.2,1627.3 L1905.0,1626.8 L1906.9,1626.5 L1908.8,1626.5 L1910.6,1626.8 L1912.5,1627.3 L1914.2,1628.1 L1915.8,1629.1 L1917.2,1630.3 L1918.5,1631.7 L1919.5,1633.3 L1920.3,1635.0 L1920.9,1636.8 L1921.2,1638.6 L1921.3,1640.5 L1921.1,1642.4 L1920.6,1644.2 L1919.9,1645.9 L1919.0,1647.6 L1917.8,1649.0 L1916.5,1650.3" />
<path d="M1994.4,1640.0 L1955.2,1575.0 Q1952.4,1571.8 1949.6,1574.0 Q1948.0,1575.4 1948.0,1577.9 L1948.0,1704.2 Q1948.0,1706.7 1949.6,1708.1 Q1952.4,1710.3 1955.2,1707.1 L1999.4,1631.4 L2001.0,1630.2 L2002.4,1629.0 L2004.0,1628.1 L2005.7,1627.3 L2007.5,1626.8 L2009.4,1626.5 L2011.3,1626.5 L2013.1,1626.8 L2015.0,1627.3 L2016.7,1628.1 L2018.3,1629.1 L2019.7,1630.3 L2021.0,1631.7 L2022.0,1633.3 L2022.8,1635.0 L2023.4,1636.8 L2023.7,1638.6 L2023.8,1640.5 L2023.6,1642.4 L2023.1,1644.2 L2022.4,1645.9 L2021.5,1647.6 L2020.3,1649.0 L2019.0,1650.3" />
<path d="M2096.9,1640.0 L2057.7,1575.0 Q2054.9,1571.8 2052.1,1574.0 Q2050.5,1575.4 2050.5,1577.9 L2050.5,1704.2 Q2050.5,1706.7 2052.1,1708.1 Q2054.9,1710.3 2057.7,1707.1 L2101.9,1631.4 L2103.5,1630.2 L2104.9,1629.0 L2106.5,1628.1 L2108.2,1627.3 L2110.0,1626.8 L2111.9,1626.5 L2113.8,1626.5 L2115.6,1626.8 L2117.5,1627.3 L2119.2,1628.1 L2120.8,1629.1 L2122.2,1630.3 L2123.5,1631.7 L2124.5,1633.3 L2125.3,1635.0 L2125.9,1636.8 L2126.2,1638.6 L2126.3,1640.5 L2126.1,1642.4 L2125.6,1644.2 L2124.9,1645.9 L2124.0,1647.6 L2122.8,1649.0 L2121.5,1650.3" />
<path d="M2199.4,1640.0 L2160.2,1575.0 Q2157.4,1571.8 2154.6,1574.0 Q2153.0,1575.4 2153.0,1577.9 L2153.0,1704.2 Q2153.0,1706.7 2154.6,1708.1 Q2157.4,1710.3 2160.2,1707.1 L2204.4,1631.4 L2206.0,1630.2 L2207.4,1629.0 L2209.0,1628.1 L2210.7,1627.3 L2212.5,1626.8 L2214.4,1626.5 L2216.3,1626.5 L2218.1,1626.8 L2220.0,1627.3 L2221.7,1628.1 L2223.3,1629.1 L2224.7,1630.3 L2226.0,1631.7 L2227.0,1633.3 L2227.8,1635.0 L2228.4,1636.8 L2228.7,1638.6 L2228.8,1640.5 L2228.6,1642.4 L2228.1,1644.2 L2227.4,1645.9 L2226.5,1647.6 L2225.3,1649.0 L2224.0,1650.3" />
<path d="M2301.6,1640.0 L2262.4,1575.0 Q2259.6,1571.8 2256.8,1574.0 Q2255.2,1575.4 2255.2,1577.9 L2255.2,1704.2 Q2255.2,1706.7 2256.8,1708.1 Q2259.6,1710.3 2262.4,1707.1 L2306.6,1631.4 L2308.2,1630.2 L2309.6,1629.0 L2311.2,1628.1 L2312.9,1627.3 L2314.7,1626.8 L2316.6,1626.5 L2318.5,1626.5 L2320.3,1626.8 L2322.2,1627.3 L2323.9,1628.1 L2325.5,1629.1 L2326.9,1630.3 L2328.2,1631.7 L2329.2,1633.3 L2330.0,1635.0 L2330.6,1636.8 L2330.9,1638.6 L2331.0,1640.5 L2330.8,1642.4 L2330.3,1644.2 L2329.6,1645.9 L2328.7,1647.6 L2327.5,1649.0 L2326.2,1650.3" />
<rect x="2361.5" y="1498.7" width="416.8" height="156.7" rx="0" stroke-width="1.5"/>
<rect x="2413.2" y="1604.6" width="313.4" height="14.8" rx="0" stroke-width="1.5"/>
<path d="M2479.4,1552.4 L2569.4,1604.6 L2661,1552.4" stroke-width="1.5" />
</g>
<g id="labels" fill="#505050" stroke="none" font-family="'Liberation Sans', sans-serif">
<text><tspan x="861.9" y="575.9" font-size="97.0" stroke="#000" stroke-width="0.9">С</tspan><tspan x="929.5" y="592.8" font-size="138" stroke="#000" stroke-width="0.9" rotate="11.5">/</tspan><tspan x="984.3" y="575.9" font-size="97.0" stroke="#000" stroke-width="0.9">У</tspan></text>
<text><tspan x="803.7" y="702.0" font-size="97.0" stroke="#000" stroke-width="0.9">6</tspan><tspan x="857.5" y="702.0" font-size="97.0" stroke="#000" stroke-width="0.9">.</tspan><tspan x="883.9" y="702.0" font-size="97.0" stroke="#000" stroke-width="0.9">9</tspan><tspan x="940.2" y="702.0" font-size="97.0" stroke="#000" stroke-width="0.9">0</tspan><tspan font-size="83.0"> </tspan><tspan x="1017.6" y="702.0" font-size="86.0">м</tspan><tspan x="1076.5" y="702.0" font-size="97.0" stroke="#000" stroke-width="0.9">²</tspan></text>
<text><tspan x="1554.6" y="522.1" font-size="97.0" stroke="#000" stroke-width="0.9">К</tspan><tspan x="1613.4" y="522.1" font-size="83.0">у</tspan><tspan x="1658.8" y="522.1" font-size="83.0">х</tspan><tspan x="1703.2" y="522.1" font-size="83.0">н</tspan><tspan x="1747.5" y="522.1" font-size="83.0">я</tspan><tspan x="1789.9" y="524.1" font-size="97.0" stroke="#000" stroke-width="0.9">-</tspan><tspan x="1823.1" y="522.1" font-size="83.0">н</tspan><tspan x="1870.8" y="522.1" font-size="83.0">и</tspan><tspan x="1918.2" y="522.1" font-size="83.0">ш</tspan><tspan x="1985.0" y="522.1" font-size="83.0">а</tspan></text>
<text><tspan x="1642.3" y="648.0" font-size="97.0" stroke="#000" stroke-width="0.9">3</tspan><tspan x="1696.8" y="648.0" font-size="97.0" stroke="#000" stroke-width="0.9">.</tspan><tspan x="1720.4" y="648.0" font-size="97.0" stroke="#000" stroke-width="0.9">5</tspan><tspan x="1779.2" y="648.0" font-size="97.0" stroke="#000" stroke-width="0.9">0</tspan><tspan font-size="83.0"> </tspan><tspan x="1856.3" y="648.0" font-size="86.0">м</tspan><tspan x="1916.0" y="648.0" font-size="97.0" stroke="#000" stroke-width="0.9">²</tspan></text>
<text><tspan x="2218.1" y="1226.9" font-size="97.0" stroke="#000" stroke-width="0.9">Г</tspan><tspan x="2261.0" y="1226.9" font-size="83.0">о</tspan><tspan x="2310.7" y="1226.9" font-size="83.0">с</tspan><tspan x="2352.5" y="1226.9" font-size="83.0">т</tspan><tspan x="2390.0" y="1226.9" font-size="83.0">и</tspan><tspan x="2438.2" y="1226.9" font-size="83.0">н</tspan><tspan x="2484.3" y="1226.9" font-size="83.0">а</tspan><tspan x="2535.3" y="1226.9" font-size="83.0">я</tspan></text>
<text><tspan x="2213.3" y="1354.0" font-size="97.0" stroke="#000" stroke-width="0.9">1</tspan><tspan x="2268.7" y="1354.0" font-size="97.0" stroke="#000" stroke-width="0.9">6</tspan><tspan x="2322.7" y="1354.0" font-size="97.0" stroke="#000" stroke-width="0.9">.</tspan><tspan x="2345.8" y="1354.0" font-size="97.0" stroke="#000" stroke-width="0.9">5</tspan><tspan x="2405.1" y="1354.0" font-size="97.0" stroke="#000" stroke-width="0.9">0</tspan><tspan font-size="83.0"> </tspan><tspan x="2482.5" y="1354.0" font-size="86.0">м</tspan><tspan x="2541.2" y="1354.0" font-size="97.0" stroke="#000" stroke-width="0.9">²</tspan></text>
<text><tspan x="840.5" y="1522.7" font-size="97.0" stroke="#000" stroke-width="0.9">К</tspan><tspan x="900.0" y="1522.7" font-size="83.0">о</tspan><tspan x="953.0" y="1522.7" font-size="83.0">р</tspan><tspan x="1002.9" y="1522.7" font-size="83.0">и</tspan><tspan x="1049.6" y="1522.7" font-size="83.0">д</tspan><tspan x="1098.9" y="1522.7" font-size="83.0">о</tspan><tspan x="1152.1" y="1522.7" font-size="83.0">р</tspan></text>
<text><tspan x="869.6" y="1649.0" font-size="97.0" stroke="#000" stroke-width="0.9">6</tspan><tspan x="923.5" y="1649.0" font-size="97.0" stroke="#000" stroke-width="0.9">.</tspan><tspan x="948.0" y="1649.0" font-size="97.0" stroke="#000" stroke-width="0.9">3</tspan><tspan x="1005.8" y="1649.0" font-size="97.0" stroke="#000" stroke-width="0.9">0</tspan><tspan font-size="83.0"> </tspan><tspan x="1083.4" y="1649.0" font-size="86.0">м</tspan><tspan x="1141.9" y="1649.0" font-size="97.0" stroke="#000" stroke-width="0.9">²</tspan></text>
</g>
</svg>
</body></html>
